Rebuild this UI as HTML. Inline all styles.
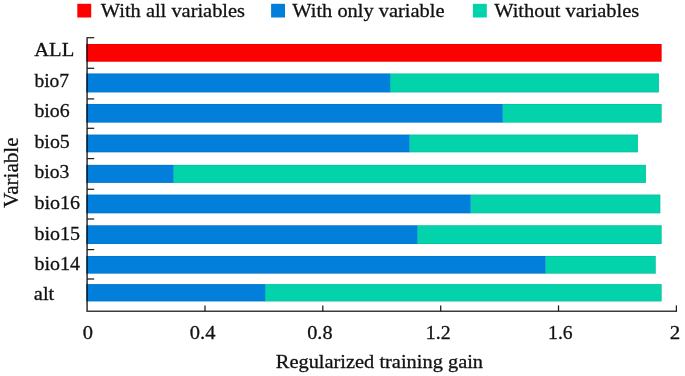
<!DOCTYPE html>
<html><head><meta charset="utf-8"><title>Jackknife of regularized training gain</title>
<style>html,body{margin:0;padding:0;background:#fff;}svg{display:block;}text{font-family:"Liberation Serif",serif;font-size:20px;fill:#111;stroke:#111;stroke-width:0.3px;}</style></head><body>
<svg width="685" height="376" viewBox="0 0 685 376">
<rect width="685" height="376" fill="#fff"/>
<rect x="77.3" y="3.8" width="13.9" height="13.7" fill="#ff0000"/>
<rect x="271.1" y="3.8" width="13.9" height="13.7" fill="#017fdb"/>
<rect x="472.9" y="3.8" width="13.9" height="13.7" fill="#02d3ab"/>
<rect x="86.3" y="44.0" width="575.3" height="17.7" fill="#ff0000"/>
<path d="M87.1 44.2 H661.4 V61.5 H87.1" fill="none" stroke="#000" stroke-opacity="0.13" stroke-width="0.6"/>
<rect x="389.9" y="73.5" width="269.0" height="18.9" fill="#02d3ab"/>
<rect x="86.3" y="73.5" width="303.9" height="18.9" fill="#017fdb"/>
<path d="M87.1 73.7 H658.7 V92.2 H87.1" fill="none" stroke="#000" stroke-opacity="0.13" stroke-width="0.6"/>
<rect x="502.5" y="104.0" width="159.1" height="18.6" fill="#02d3ab"/>
<rect x="86.3" y="104.0" width="416.5" height="18.6" fill="#017fdb"/>
<path d="M87.1 104.2 H661.4 V122.4 H87.1" fill="none" stroke="#000" stroke-opacity="0.13" stroke-width="0.6"/>
<rect x="409.3" y="134.6" width="228.6" height="17.7" fill="#02d3ab"/>
<rect x="86.3" y="134.6" width="323.3" height="17.7" fill="#017fdb"/>
<path d="M87.1 134.8 H637.7 V152.1 H87.1" fill="none" stroke="#000" stroke-opacity="0.13" stroke-width="0.6"/>
<rect x="173.3" y="164.9" width="472.6" height="18.0" fill="#02d3ab"/>
<rect x="86.3" y="164.9" width="87.3" height="18.0" fill="#017fdb"/>
<path d="M87.1 165.1 H645.7 V182.7 H87.1" fill="none" stroke="#000" stroke-opacity="0.13" stroke-width="0.6"/>
<rect x="470.4" y="194.6" width="189.9" height="18.7" fill="#02d3ab"/>
<rect x="86.3" y="194.6" width="384.4" height="18.7" fill="#017fdb"/>
<path d="M87.1 194.8 H660.1 V213.1 H87.1" fill="none" stroke="#000" stroke-opacity="0.13" stroke-width="0.6"/>
<rect x="417.2" y="225.3" width="244.4" height="18.7" fill="#02d3ab"/>
<rect x="86.3" y="225.3" width="331.2" height="18.7" fill="#017fdb"/>
<path d="M87.1 225.5 H661.4 V243.8 H87.1" fill="none" stroke="#000" stroke-opacity="0.13" stroke-width="0.6"/>
<rect x="545.3" y="256.0" width="110.4" height="17.6" fill="#02d3ab"/>
<rect x="86.3" y="256.0" width="459.3" height="17.6" fill="#017fdb"/>
<path d="M87.1 256.2 H655.5 V273.4 H87.1" fill="none" stroke="#000" stroke-opacity="0.13" stroke-width="0.6"/>
<rect x="264.9" y="284.1" width="396.7" height="17.3" fill="#02d3ab"/>
<rect x="86.3" y="284.1" width="178.9" height="17.3" fill="#017fdb"/>
<path d="M87.1 284.3 H661.4 V301.2 H87.1" fill="none" stroke="#000" stroke-opacity="0.13" stroke-width="0.6"/>
<path d="M87.1 37.150000000000006 V311.2 H677.05" stroke="#3c3c3c" stroke-width="1.6" fill="none" style="mix-blend-mode:multiply"/>
<g stroke="#1c1c1c" stroke-width="1.25" fill="none" stroke-linecap="butt">
<path d="M87.1 37.7 H94.19999999999999"/>
<path d="M87.1 68.3 H94.19999999999999"/>
<path d="M87.1 98.9 H94.19999999999999"/>
<path d="M87.1 128.3 H94.19999999999999"/>
<path d="M87.1 158.6 H94.19999999999999"/>
<path d="M87.1 189.3 H94.19999999999999"/>
<path d="M87.1 219.0 H94.19999999999999"/>
<path d="M87.1 249.6 H94.19999999999999"/>
<path d="M87.1 279.0 H94.19999999999999"/>
<path d="M205.0 311.2 V305.4"/>
<path d="M322.8 311.2 V305.4"/>
<path d="M440.7 311.2 V305.4"/>
<path d="M558.5 311.2 V305.4"/>
<path d="M676.4 311.2 V305.4"/>
</g>
<g opacity="0.999">
<text transform="translate(100.80 17.35) scale(1.0214 0.945)">With all variables</text>
<text transform="translate(292.30 17.35) scale(1.0215 0.945)">With only variable</text>
<text transform="translate(494.20 17.35) scale(1.0223 0.945)">Without variables</text>
<text transform="translate(34.24 56.35) scale(1.0293 0.945)">ALL</text>
<text transform="translate(34.40 86.50) scale(0.9771 0.945)">bio7</text>
<text transform="translate(34.40 117.39) scale(0.9943 0.945)">bio6</text>
<text transform="translate(34.40 147.90) scale(0.9957 0.945)">bio5</text>
<text transform="translate(34.40 178.40) scale(0.9842 0.945)">bio3</text>
<text transform="translate(34.40 208.90) scale(1.0044 0.945)">bio16</text>
<text transform="translate(34.40 239.50) scale(1.0011 0.945)">bio15</text>
<text transform="translate(34.40 270.00) scale(0.9989 0.945)">bio14</text>
<text transform="translate(33.83 300.25) scale(1.0234 0.945)">alt</text>
<text transform="translate(82.83 339.20) scale(1.0235 0.945)">0</text>
<text transform="translate(189.83 339.20) scale(1.0250 0.945)">0.4</text>
<text transform="translate(307.24 339.20) scale(1.0128 0.945)">0.8</text>
<text transform="translate(425.87 339.20) scale(0.9888 0.945)">1.2</text>
<text transform="translate(548.08 339.20) scale(0.9846 0.945)">1.6</text>
<text transform="translate(669.75 339.20) scale(1.0500 0.945)">2</text>
<text transform="translate(275.79 367.80) scale(1.0202 0.945)">Regularized training gain</text>
<text transform="translate(18.4 207.76) rotate(-90) scale(1.0555 1.0)">Variable</text>
</g>
</svg></body></html>
